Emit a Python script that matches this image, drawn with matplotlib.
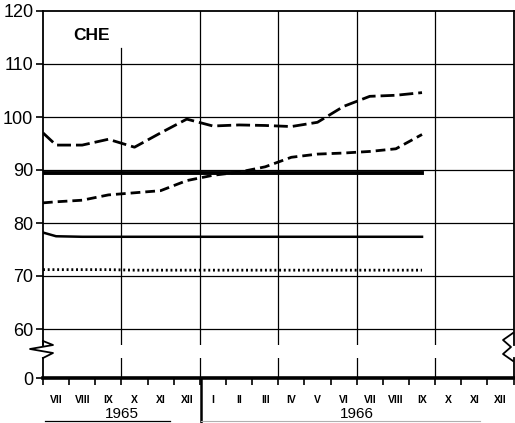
import numpy as np
import matplotlib
matplotlib.use('Agg')
import matplotlib.pyplot as plt
from matplotlib.lines import Line2D
from matplotlib.transforms import blended_transform_factory

plt.rcParams['font.family'] = ['Liberation Sans', 'DejaVu Sans']

# month labels, VII 1965 .. XII 1966
months = ['VII', 'VIII', 'IX', 'X', 'XI', 'XII', 'I', 'II', 'III',
          'IV', 'V', 'VI', 'VII', 'VIII', 'IX', 'X', 'XI', 'XII']
years = ['1965', '1966']

# values: first entry is the start at the left edge, then VII 1965 .. IX 1966
series_long_dash = [97.0, 94.7, 94.7, 95.8, 94.3, 97.0, 99.6, 98.3, 98.5,
                    98.4, 98.2, 99.0, 102.0, 103.9, 104.1, 104.6]
series_dash = [83.8, 84.0, 84.3, 85.3, 85.7, 86.1, 88.0, 89.0, 89.6,
               90.6, 92.4, 93.0, 93.2, 93.5, 94.0, 96.7]
series_heavy = [89.5, 89.5, 89.5, 89.5, 89.5, 89.5, 89.5, 89.5, 89.5,
                89.5, 89.5, 89.5, 89.5, 89.5, 89.5, 89.5]
series_solid = [78.2, 77.5, 77.4, 77.4, 77.4, 77.4, 77.4, 77.4, 77.4,
                77.4, 77.4, 77.4, 77.4, 77.4, 77.4, 77.4]
series_dotted = [71.2, 71.2, 71.2, 71.2, 71.1, 71.1, 71.1, 71.1, 71.1,
                 71.1, 71.1, 71.1, 71.1, 71.1, 71.1, 71.1]

n = len(series_long_dash) - 1
xs = np.concatenate([[0.0], np.arange(n) + 0.5])

W, H = 515, 423
fig = plt.figure(figsize=(W / 100, H / 100), dpi=100)

left = 43 / W
right = 513.5 / W
ax = fig.add_axes([left, 1 - 345 / H, right - left, (345 - 11) / H])
axb = fig.add_axes([left, 1 - 378 / H, right - left, (378 - 358) / H])

ax.set_xlim(0, len(months))
ax.set_ylim(120 - (345 - 11) / 5.3, 120)
axb.set_xlim(0, len(months))
axb.set_ylim(0, (378 - 358) / 5.3)

# grid
for y in range(60, 120, 10):
    ax.axhline(y, color='black', lw=0.9, zorder=1)
for xg in range(3, len(months), 3):
    top = 1.0 if xg != 3 else (113 - ax.get_ylim()[0]) / (120 - ax.get_ylim()[0])
    ax.axvline(xg, ymax=top, color='black', lw=0.9, zorder=1)
    axb.axvline(xg, color='black', lw=0.9, zorder=1)

ax.plot(xs, series_long_dash, color='black', lw=2.0, dashes=(5, 1.8), zorder=3)
ax.plot(xs, series_dash, color='black', lw=2.0, dashes=(3.5, 1.8), zorder=3)
ax.plot(xs, series_heavy, color='black', lw=2.8, zorder=3)
ax.plot(xs, series_solid, color='black', lw=1.8, zorder=3)
ax.plot(xs, series_dotted, color='black', lw=2.0, dashes=(0.7, 1.0), zorder=3)

ax.text(1.15, 115.4, 'CHE', fontsize=12.5, fontweight='bold', va='center')

# spines
for a in (ax, axb):
    for s in a.spines.values():
        s.set_linewidth(1.3)
ax.spines['bottom'].set_visible(False)
axb.spines['top'].set_visible(False)
axb.spines['bottom'].set_linewidth(2.6)

ax.set_yticks(range(60, 121, 10))
ax.set_xticks([])
ax.tick_params(axis='y', direction='out', length=5, width=1.2, labelsize=13, pad=2)

axb.set_yticks([0])
axb.tick_params(axis='y', direction='out', length=5, width=1.2, labelsize=13, pad=2)
axb.set_xticks(range(0, len(months) + 1))
axb.set_xticklabels([])
axb.tick_params(axis='x', which='major', direction='out', length=5, width=1.2)
axb.set_xticks(np.arange(len(months)) + 0.5, minor=True)
axb.set_xticklabels(months, minor=True, fontsize=7.5, fontweight='bold')
axb.tick_params(axis='x', which='minor', length=0, pad=12)

# year labels, separator and underlines below the month row
tr = blended_transform_factory(axb.transData, fig.transFigure)
axb.text(3, 1 - 414 / H, years[0], ha='center', va='center', fontsize=11,
         transform=tr, clip_on=False)
axb.text(12, 1 - 414 / H, years[1], ha='center', va='center', fontsize=11,
         transform=tr, clip_on=False)
fig.add_artist(Line2D([201 / W, 201 / W], [1 - 379 / H, 0], color='black', lw=1.8))
fig.add_artist(Line2D([45 / W, 170 / W], [1 - 421 / H, 1 - 421 / H], color='black', lw=0.9))
fig.add_artist(Line2D([201 / W, 480 / W], [1 - 421 / H, 1 - 421 / H], color='#b0b0b0', lw=0.8))

# axis break zigzags
zx = np.array([43, 53, 30, 53, 43]) / W
zy = 1 - np.array([341, 345, 349, 353, 358]) / H
fig.add_artist(Line2D(zx, zy, color='black', lw=1.3))
fig.add_artist(Line2D([43 / W, 43 / W], [1 - 345 / H, 1 - 341 / H], color='black', lw=1.3))
rx = np.array([513, 503, 511, 503, 513]) / W
ry = 1 - np.array([333, 340, 347, 354, 361]) / H
fig.add_artist(Line2D(rx, ry, color='black', lw=1.3))

fig.savefig('out.png', dpi=100)
